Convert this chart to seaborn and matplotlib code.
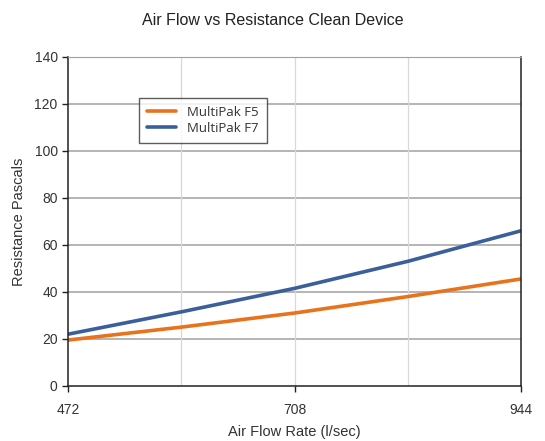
import matplotlib
matplotlib.use("Agg")
import matplotlib.pyplot as plt
import pandas as pd
import seaborn as sns

air_flow = [472, 590, 708, 826, 944]
f5_resistance = [19.5, 25.0, 31.0, 38.0, 45.5]
f7_resistance = [22.0, 31.5, 41.5, 53.0, 66.0]
series_names = ["MultiPak F5", "MultiPak F7"]
x_ticks = [472, 708, 944]
x_grid = [590, 826]
y_ticks = [0, 20, 40, 60, 80, 100, 120, 140]

df = pd.DataFrame({
    "flow": air_flow * 2,
    "resistance": f5_resistance + f7_resistance,
    "series": [series_names[0]] * len(air_flow) + [series_names[1]] * len(air_flow),
})

sns.set_style("white")
plt.rcParams["font.family"] = ["Liberation Sans", "DejaVu Sans"]

fig = plt.figure(figsize=(5.45, 4.41), dpi=100)
ax = fig.add_axes([0.125, 0.125, 0.831, 0.746])

sns.lineplot(data=df, x="flow", y="resistance", hue="series",
             palette=["#e8731c", "#3a5f9a"], linewidth=2.6, ax=ax)

ax.set_xlim(472, 944)
ax.set_ylim(0, 140)
ax.set_xticks(x_ticks)
ax.set_yticks(y_ticks)
for y in y_ticks[1:]:
    ax.axhline(y, color="#a0a0a0", linewidth=1.1, zorder=0)
for x in x_grid + [708]:
    ax.axvline(x, color="#d8d8d8", linewidth=0.9, zorder=0)

for side in ["left", "bottom", "right"]:
    ax.spines[side].set_color("#222222")
    ax.spines[side].set_linewidth(1.1)
ax.spines["top"].set_color("#a0a0a0")
ax.tick_params(axis="both", direction="out", length=4, width=1, color="#222222",
               labelsize=10, labelcolor="#333333", left=True, bottom=True)
ax.tick_params(axis="x", pad=8)

ax.set_xlabel("Air Flow Rate (l/sec)", fontsize=10.5, color="#333333", labelpad=6)
ax.set_ylabel("Resistance Pascals", fontsize=10.5, color="#333333", labelpad=6)
fig.suptitle("Air Flow vs Resistance Clean Device", fontsize=11.5, color="#222222", y=0.97)

leg = ax.legend(loc="upper left", bbox_to_anchor=(0.143, 0.895), frameon=True,
                fancybox=False, edgecolor="#333333",
                prop={"family": "Open Sans", "size": 9.5},
                handlelength=2.2, borderpad=0.6, labelspacing=0.2)
leg.get_frame().set_linewidth(1.0)
for t in leg.get_texts():
    t.set_color("#333333")

fig.savefig("out.png", dpi=100)
